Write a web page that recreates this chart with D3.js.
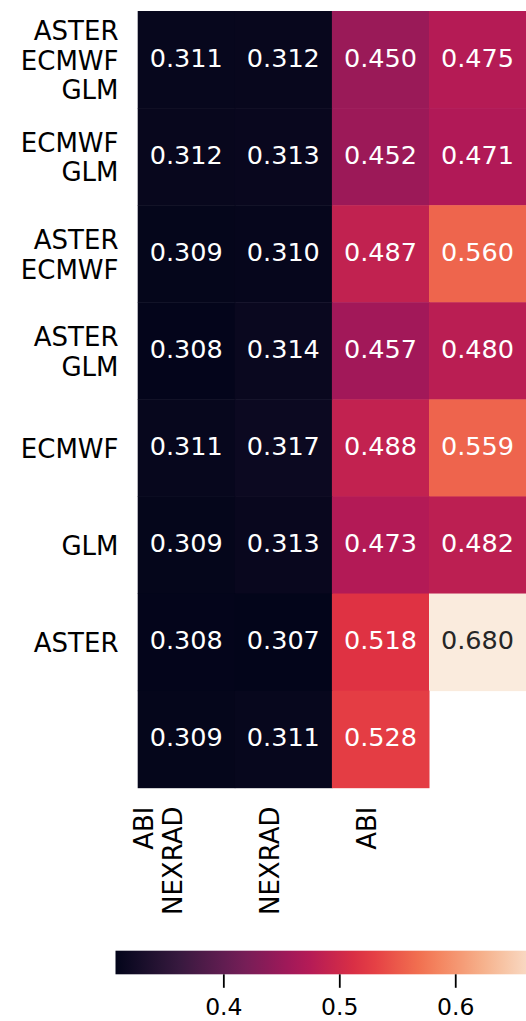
<!DOCTYPE html>
<html>
<head>
<meta charset="utf-8">
<script src="https://cdn.jsdelivr.net/npm/d3@7"></script>
<style>
  html, body { margin: 0; padding: 0; background: #fff; overflow: hidden; }
  svg { display: block; font-family: "DejaVu Sans", sans-serif; }
</style>
</head>
<body>
<div id="chart"></div>
<script>
// rows / columns of the heatmap (multi-line labels as arrays)
const rowLabels = [
  ["ASTER", "ECMWF", "GLM"],
  ["ECMWF", "GLM"],
  ["ASTER", "ECMWF"],
  ["ASTER", "GLM"],
  ["ECMWF"],
  ["GLM"],
  ["ASTER"],
  []
];
const colLabels = [["ABI", "NEXRAD"], ["NEXRAD"], ["ABI"], []];

// cell values, one array per row (null = missing)
const values = [
  [0.311, 0.312, 0.450, 0.475],
  [0.312, 0.313, 0.452, 0.471],
  [0.309, 0.310, 0.487, 0.560],
  [0.308, 0.314, 0.457, 0.480],
  [0.311, 0.317, 0.488, 0.559],
  [0.309, 0.313, 0.473, 0.482],
  [0.308, 0.307, 0.518, 0.680],
  [0.309, 0.311, 0.528, null]
];

const cbarTicks = [0.4, 0.5, 0.6];

// rough "rocket" colormap stops
const rocketStops = ["#03051a", "#35193e", "#701f57", "#ad1759", "#e13342", "#f37651", "#f6b48f", "#faebdd"];

const width = 526, height = 1021;
const fontSize = 26;
const lineH = 29.7;

const svg = d3.select('#chart').append('svg')
  .attr('width', width)
  .attr('height', height);

const flat = values.flat().filter(v => v != null);
const vmin = d3.min(flat), vmax = d3.max(flat);

const color = d3.scaleSequential(d3.piecewise(d3.interpolateRgb, rocketStops))
  .domain([vmin, vmax]);

const x = d3.scaleBand().domain(d3.range(colLabels.length)).range([137.7, 526.1]);
const y = d3.scaleBand().domain(d3.range(rowLabels.length)).range([11, 787.7]);

// relative luminance, used to pick annotation colour (like seaborn)
function luminance(c) {
  const rgb = d3.rgb(c);
  const lin = [rgb.r, rgb.g, rgb.b].map(v => {
    v /= 255;
    return v <= 0.03928 ? v / 12.92 : Math.pow((v + 0.055) / 1.055, 2.4);
  });
  return 0.2126 * lin[0] + 0.7152 * lin[1] + 0.0722 * lin[2];
}

const cells = [];
values.forEach((row, i) => row.forEach((v, j) => {
  if (v != null) cells.push({ row: i, col: j, value: v });
}));

// cells
svg.append('g')
  .selectAll('rect')
  .data(cells)
  .join('rect')
  .attr('x', d => x(d.col))
  .attr('y', d => y(d.row))
  .attr('width', x.bandwidth() + 0.5)
  .attr('height', y.bandwidth() + 0.5)
  .attr('fill', d => color(d.value));

// annotations
svg.append('g')
  .selectAll('text')
  .data(cells)
  .join('text')
  .attr('x', d => x(d.col) + x.bandwidth() / 2)
  .attr('y', d => y(d.row) + y.bandwidth() / 2 + 7)
  .attr('text-anchor', 'middle')
  .attr('font-size', fontSize - 0.5)
  .attr('fill', d => luminance(color(d.value)) > 0.408 ? '#262626' : '#fff')
  .text(d => d.value.toFixed(3));

// row labels
const rowG = svg.append('g')
  .selectAll('text')
  .data(rowLabels)
  .join('text')
  .attr('text-anchor', 'end')
  .attr('font-size', fontSize)
  .attr('fill', '#000');
rowG.each(function (lines, i) {
  const cy = y(i) + y.bandwidth() / 2;
  d3.select(this).selectAll('tspan')
    .data(lines)
    .join('tspan')
    .attr('x', 118.5)
    .attr('y', (d, k) => cy + (k - (lines.length - 1) / 2) * lineH + 10)
    .text(d => d);
});

// column labels (rotated)
const colG = svg.append('g')
  .selectAll('text')
  .data(colLabels)
  .join('text')
  .attr('text-anchor', 'end')
  .attr('font-size', fontSize)
  .attr('fill', '#000')
  .attr('transform', (d, j) => `translate(${x(j) + x.bandwidth() / 2 - 4},806.5) rotate(-90)`);
colG.each(function (lines) {
  d3.select(this).selectAll('tspan')
    .data(lines)
    .join('tspan')
    .attr('x', 0)
    .attr('y', (d, k) => (k - (lines.length - 1)) * lineH)
    .text(d => d);
});

// colorbar
const cb = d3.scaleLinear().domain([vmin, vmax]).range([115.5, 548]);
const cbTop = 950.7, cbH = 23.6;

const grad = svg.append('defs').append('linearGradient')
  .attr('id', 'cbar')
  .attr('gradientUnits', 'userSpaceOnUse')
  .attr('x1', cb.range()[0]).attr('x2', cb.range()[1])
  .attr('y1', 0).attr('y2', 0);
grad.selectAll('stop')
  .data(d3.range(0, 1.0001, 0.05))
  .join('stop')
  .attr('offset', d => d)
  .attr('stop-color', d => color(vmin + d * (vmax - vmin)));

svg.append('rect')
  .attr('x', cb.range()[0])
  .attr('y', cbTop)
  .attr('width', cb.range()[1] - cb.range()[0])
  .attr('height', cbH)
  .attr('fill', 'url(#cbar)');

const axis = svg.append('g')
  .attr('transform', `translate(0,${cbTop + cbH})`)
  .call(d3.axisBottom(cb)
    .tickValues(cbarTicks)
    .tickSize(13.5)
    .tickPadding(10.5)
    .tickFormat(d3.format('.1f')));
axis.select('.domain').remove();
axis.selectAll('.tick line').attr('stroke', '#000').attr('stroke-width', 1.8);
axis.selectAll('.tick text')
  .attr('font-size', 23.5)
  .attr('font-family', '"DejaVu Sans", sans-serif')
  .attr('fill', '#000');
</script>
</body>
</html>
